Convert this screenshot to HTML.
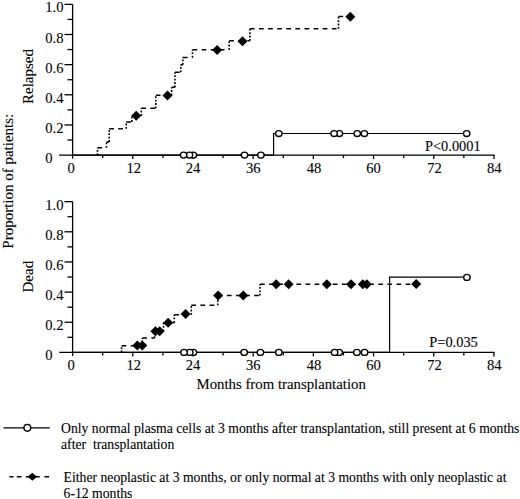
<!DOCTYPE html>
<html><head><meta charset="utf-8"><style>
html,body{margin:0;padding:0;background:#fff;width:520px;height:499px;overflow:hidden;position:relative;font-family:"Liberation Serif",serif}
svg text{stroke:#000;stroke-width:0.1px}
</style></head><body>
<svg width="520" height="499" viewBox="0 0 520 499" style="position:absolute;left:0;top:0">
<g font-family='"Liberation Serif", serif' font-size="14.6" fill="#000">
<path d="M72.6 4.35V158.70" stroke="#000" stroke-width="1.3" fill="none"/>
<path d="M59.2 155.1H494.54" stroke="#000" stroke-width="1.4" fill="none"/>
<path d="M67.5 140.03H72.6" stroke="#000" stroke-width="1.3"/>
<path d="M64.5 124.95H72.6" stroke="#000" stroke-width="1.3"/>
<path d="M67.5 109.88H72.6" stroke="#000" stroke-width="1.3"/>
<path d="M64.5 94.80H72.6" stroke="#000" stroke-width="1.3"/>
<path d="M67.5 79.72H72.6" stroke="#000" stroke-width="1.3"/>
<path d="M64.5 64.65H72.6" stroke="#000" stroke-width="1.3"/>
<path d="M67.5 49.57H72.6" stroke="#000" stroke-width="1.3"/>
<path d="M64.5 34.50H72.6" stroke="#000" stroke-width="1.3"/>
<path d="M67.5 19.42H72.6" stroke="#000" stroke-width="1.3"/>
<path d="M64.5 4.35H72.6" stroke="#000" stroke-width="1.3"/>
<path d="M102.70 155.1V158.10" stroke="#000" stroke-width="1.3"/>
<path d="M132.79 155.1V159.10" stroke="#000" stroke-width="1.3"/>
<path d="M162.89 155.1V158.10" stroke="#000" stroke-width="1.3"/>
<path d="M192.98 155.1V159.10" stroke="#000" stroke-width="1.3"/>
<path d="M223.08 155.1V158.10" stroke="#000" stroke-width="1.3"/>
<path d="M253.18 155.1V159.10" stroke="#000" stroke-width="1.3"/>
<path d="M283.27 155.1V158.10" stroke="#000" stroke-width="1.3"/>
<path d="M313.37 155.1V159.10" stroke="#000" stroke-width="1.3"/>
<path d="M343.46 155.1V158.10" stroke="#000" stroke-width="1.3"/>
<path d="M373.56 155.1V159.10" stroke="#000" stroke-width="1.3"/>
<path d="M403.66 155.1V158.10" stroke="#000" stroke-width="1.3"/>
<path d="M433.75 155.1V159.10" stroke="#000" stroke-width="1.3"/>
<path d="M463.85 155.1V158.10" stroke="#000" stroke-width="1.3"/>
<path d="M493.94 155.1V159.10" stroke="#000" stroke-width="1.3"/>
<text x="45.2" y="163.10">0</text>
<text x="45.2" y="132.95">0.2</text>
<text x="45.2" y="102.80">0.4</text>
<text x="45.2" y="72.65">0.6</text>
<text x="45.2" y="42.50">0.8</text>
<text x="45.2" y="12.35">1.0</text>
<text x="71.10" y="173.10" text-anchor="middle">0</text>
<text x="133.79" y="173.10" text-anchor="middle">12</text>
<text x="192.98" y="173.10" text-anchor="middle">24</text>
<text x="253.18" y="173.10" text-anchor="middle">36</text>
<text x="314.07" y="173.10" text-anchor="middle">48</text>
<text x="373.56" y="173.10" text-anchor="middle">60</text>
<text x="434.45" y="173.10" text-anchor="middle">72</text>
<text x="494.34" y="173.10" text-anchor="middle">84</text>
<path d="M72.6 201.65V356.00" stroke="#000" stroke-width="1.3" fill="none"/>
<path d="M59.2 352.4H494.54" stroke="#000" stroke-width="1.4" fill="none"/>
<path d="M67.5 337.32H72.6" stroke="#000" stroke-width="1.3"/>
<path d="M64.5 322.25H72.6" stroke="#000" stroke-width="1.3"/>
<path d="M67.5 307.17H72.6" stroke="#000" stroke-width="1.3"/>
<path d="M64.5 292.10H72.6" stroke="#000" stroke-width="1.3"/>
<path d="M67.5 277.02H72.6" stroke="#000" stroke-width="1.3"/>
<path d="M64.5 261.95H72.6" stroke="#000" stroke-width="1.3"/>
<path d="M67.5 246.87H72.6" stroke="#000" stroke-width="1.3"/>
<path d="M64.5 231.80H72.6" stroke="#000" stroke-width="1.3"/>
<path d="M67.5 216.72H72.6" stroke="#000" stroke-width="1.3"/>
<path d="M64.5 201.65H72.6" stroke="#000" stroke-width="1.3"/>
<path d="M102.70 352.4V355.40" stroke="#000" stroke-width="1.3"/>
<path d="M132.79 352.4V356.40" stroke="#000" stroke-width="1.3"/>
<path d="M162.89 352.4V355.40" stroke="#000" stroke-width="1.3"/>
<path d="M192.98 352.4V356.40" stroke="#000" stroke-width="1.3"/>
<path d="M223.08 352.4V355.40" stroke="#000" stroke-width="1.3"/>
<path d="M253.18 352.4V356.40" stroke="#000" stroke-width="1.3"/>
<path d="M283.27 352.4V355.40" stroke="#000" stroke-width="1.3"/>
<path d="M313.37 352.4V356.40" stroke="#000" stroke-width="1.3"/>
<path d="M343.46 352.4V355.40" stroke="#000" stroke-width="1.3"/>
<path d="M373.56 352.4V356.40" stroke="#000" stroke-width="1.3"/>
<path d="M403.66 352.4V355.40" stroke="#000" stroke-width="1.3"/>
<path d="M433.75 352.4V356.40" stroke="#000" stroke-width="1.3"/>
<path d="M463.85 352.4V355.40" stroke="#000" stroke-width="1.3"/>
<path d="M493.94 352.4V356.40" stroke="#000" stroke-width="1.3"/>
<text x="45.2" y="360.40">0</text>
<text x="45.2" y="330.25">0.2</text>
<text x="45.2" y="300.10">0.4</text>
<text x="45.2" y="269.95">0.6</text>
<text x="45.2" y="239.80">0.8</text>
<text x="45.2" y="209.65">1.0</text>
<text x="71.10" y="370.40" text-anchor="middle">0</text>
<text x="133.79" y="370.40" text-anchor="middle">12</text>
<text x="192.98" y="370.40" text-anchor="middle">24</text>
<text x="253.18" y="370.40" text-anchor="middle">36</text>
<text x="314.07" y="370.40" text-anchor="middle">48</text>
<text x="373.56" y="370.40" text-anchor="middle">60</text>
<text x="434.45" y="370.40" text-anchor="middle">72</text>
<text x="494.34" y="370.40" text-anchor="middle">84</text>
</g>
<path d="M97.50 147.70H106.50M106.50 141.90H109.20M109.20 128.80H126.20M126.20 121.90H131.80M131.80 115.80H141.30M141.30 108.30H155.80M155.80 95.30H171.60M171.60 87.30H175.00M175.00 72.20H180.80M180.80 64.70H182.80M182.80 57.50H192.50M192.50 49.80H229.20M229.20 40.80H249.90M249.90 28.80H338.50M338.50 16.60H350.30" stroke="#000" stroke-width="1.5" fill="none" stroke-dasharray="4.7 4.4"/><path d="M97.50 155.10V147.70M106.50 147.70V141.90M109.20 141.90V128.80M126.20 128.80V121.90M131.80 121.90V115.80M141.30 115.80V108.30M155.80 108.30V95.30M171.60 95.30V87.30M175.00 87.30V72.20M180.80 72.20V64.70M182.80 64.70V57.50M192.50 57.50V49.80M229.20 49.80V40.80M249.90 40.80V28.80M338.50 28.80V16.60" stroke="#000" stroke-width="1.6" fill="none" stroke-dasharray="1.8 1.6"/>
<path d="M131.20 115.80L136.20 110.80L141.20 115.80L136.20 120.80Z" fill="#000"/>
<path d="M162.50 95.40L167.50 90.40L172.50 95.40L167.50 100.40Z" fill="#000"/>
<path d="M212.10 50.00L217.10 45.00L222.10 50.00L217.10 55.00Z" fill="#000"/>
<path d="M237.50 41.20L242.50 36.20L247.50 41.20L242.50 46.20Z" fill="#000"/>
<path d="M345.30 16.80L350.30 11.80L355.30 16.80L350.30 21.80Z" fill="#000"/>
<path d="M72.6 155.1H273.6V133.5H466.7" stroke="#000" stroke-width="1.2" fill="none"/>
<ellipse cx="260.90" cy="155.10" rx="3.25" ry="2.95" fill="#fff" stroke="#000" stroke-width="1.35"/>
<ellipse cx="244.50" cy="155.10" rx="3.25" ry="2.95" fill="#fff" stroke="#000" stroke-width="1.35"/>
<ellipse cx="193.30" cy="155.10" rx="3.25" ry="2.95" fill="#fff" stroke="#000" stroke-width="1.35"/>
<ellipse cx="189.50" cy="155.10" rx="3.25" ry="2.95" fill="#fff" stroke="#000" stroke-width="1.35"/>
<ellipse cx="183.60" cy="155.10" rx="3.25" ry="2.95" fill="#fff" stroke="#000" stroke-width="1.35"/>
<ellipse cx="466.70" cy="133.50" rx="3.25" ry="2.95" fill="#fff" stroke="#000" stroke-width="1.35"/>
<ellipse cx="364.40" cy="133.50" rx="3.25" ry="2.95" fill="#fff" stroke="#000" stroke-width="1.35"/>
<ellipse cx="357.20" cy="133.50" rx="3.25" ry="2.95" fill="#fff" stroke="#000" stroke-width="1.35"/>
<ellipse cx="339.40" cy="133.50" rx="3.25" ry="2.95" fill="#fff" stroke="#000" stroke-width="1.35"/>
<ellipse cx="334.10" cy="133.50" rx="3.25" ry="2.95" fill="#fff" stroke="#000" stroke-width="1.35"/>
<ellipse cx="278.80" cy="133.50" rx="3.25" ry="2.95" fill="#fff" stroke="#000" stroke-width="1.35"/>
<path d="M121.60 345.80H142.30M142.30 338.10H154.60M154.60 331.20H163.50M163.50 322.70H174.30M174.30 314.80H191.30M191.30 305.20H217.80M217.80 295.60H260.00M260.00 284.30H416.20" stroke="#000" stroke-width="1.5" fill="none" stroke-dasharray="4.7 4.4"/><path d="M121.60 352.40V345.80M142.30 345.80V338.10M154.60 338.10V331.20M163.50 331.20V322.70M174.30 322.70V314.80M191.30 314.80V305.20M217.80 305.20V295.60M260.00 295.60V284.30" stroke="#000" stroke-width="1.6" fill="none" stroke-dasharray="1.8 1.6"/>
<path d="M132.30 345.50L137.30 340.50L142.30 345.50L137.30 350.50Z" fill="#000"/>
<path d="M137.30 345.50L142.30 340.50L147.30 345.50L142.30 350.50Z" fill="#000"/>
<path d="M150.40 331.20L155.40 326.20L160.40 331.20L155.40 336.20Z" fill="#000"/>
<path d="M154.60 331.20L159.60 326.20L164.60 331.20L159.60 336.20Z" fill="#000"/>
<path d="M163.10 322.70L168.10 317.70L173.10 322.70L168.10 327.70Z" fill="#000"/>
<path d="M180.60 314.10L185.60 309.10L190.60 314.10L185.60 319.10Z" fill="#000"/>
<path d="M213.10 295.50L218.10 290.50L223.10 295.50L218.10 300.50Z" fill="#000"/>
<path d="M238.30 295.60L243.30 290.60L248.30 295.60L243.30 300.60Z" fill="#000"/>
<path d="M271.20 284.30L276.20 279.30L281.20 284.30L276.20 289.30Z" fill="#000"/>
<path d="M283.60 284.30L288.60 279.30L293.60 284.30L288.60 289.30Z" fill="#000"/>
<path d="M321.80 284.20L326.80 279.20L331.80 284.20L326.80 289.20Z" fill="#000"/>
<path d="M346.00 284.20L351.00 279.20L356.00 284.20L351.00 289.20Z" fill="#000"/>
<path d="M357.80 284.20L362.80 279.20L367.80 284.20L362.80 289.20Z" fill="#000"/>
<path d="M361.80 284.20L366.80 279.20L371.80 284.20L366.80 289.20Z" fill="#000"/>
<path d="M411.20 284.10L416.20 279.10L421.20 284.10L416.20 289.10Z" fill="#000"/>
<path d="M72.6 352.4H389.6V277.2H466.9" stroke="#000" stroke-width="1.2" fill="none"/>
<ellipse cx="364.60" cy="352.40" rx="3.25" ry="2.95" fill="#fff" stroke="#000" stroke-width="1.35"/>
<ellipse cx="356.90" cy="352.40" rx="3.25" ry="2.95" fill="#fff" stroke="#000" stroke-width="1.35"/>
<ellipse cx="339.20" cy="352.40" rx="3.25" ry="2.95" fill="#fff" stroke="#000" stroke-width="1.35"/>
<ellipse cx="334.60" cy="352.40" rx="3.25" ry="2.95" fill="#fff" stroke="#000" stroke-width="1.35"/>
<ellipse cx="278.80" cy="352.40" rx="3.25" ry="2.95" fill="#fff" stroke="#000" stroke-width="1.35"/>
<ellipse cx="260.40" cy="352.40" rx="3.25" ry="2.95" fill="#fff" stroke="#000" stroke-width="1.35"/>
<ellipse cx="244.20" cy="352.40" rx="3.25" ry="2.95" fill="#fff" stroke="#000" stroke-width="1.35"/>
<ellipse cx="193.40" cy="352.40" rx="3.25" ry="2.95" fill="#fff" stroke="#000" stroke-width="1.35"/>
<ellipse cx="189.80" cy="352.40" rx="3.25" ry="2.95" fill="#fff" stroke="#000" stroke-width="1.35"/>
<ellipse cx="184.00" cy="352.40" rx="3.25" ry="2.95" fill="#fff" stroke="#000" stroke-width="1.35"/>
<ellipse cx="466.90" cy="277.40" rx="3.25" ry="2.95" fill="#fff" stroke="#000" stroke-width="1.35"/>
<text x="425" y="150.7" font-family='"Liberation Serif", serif' font-size="14.4">P&lt;0.0001</text>
<text x="429.3" y="347.4" font-family='"Liberation Serif", serif' font-size="14.4">P=0.035</text>
<text transform="translate(33.2 104) rotate(-90)" font-family='"Liberation Serif", serif' font-size="15">Relapsed</text>
<text transform="translate(33.2 292.5) rotate(-90)" font-family='"Liberation Serif", serif' font-size="15">Dead</text>
<text transform="translate(13.2 248.7) rotate(-90)" font-family='"Liberation Serif", serif' font-size="15">Proportion of patients:</text>
<text x="196.5" y="389.2" font-family='"Liberation Serif", serif' font-size="14.8">Months from transplantation</text>
<path d="M3.5 427.8H49.8" stroke="#000" stroke-width="1.3"/>
<circle cx="27.3" cy="427.8" r="3.4" fill="#fff" stroke="#000" stroke-width="1.4"/>
<path d="M9.4 476.8H13.5M16.8 476.8H21.5M25.8 476.8H30M35 476.8H39.7M44.4 476.8H49.1" stroke="#000" stroke-width="1.5"/>
<path d="M27.60 476.80L32.30 472.80L37.00 476.80L32.30 480.80Z" fill="#000"/>
<g font-family='"Liberation Serif", serif' font-size="13.7">
<text x="61" y="432.7">Only normal plasma cells at 3 months after transplantation, still present at 6 months</text>
<text x="61" y="448.8" xml:space="preserve" style="white-space:pre">after  transplantation</text>
<text x="63.6" y="482.0">Either neoplastic at 3 months, or only normal at 3 months with only neoplastic at</text>
<text x="63.6" y="497.6">6-12 months</text>
</g>
</svg>
</body></html>
